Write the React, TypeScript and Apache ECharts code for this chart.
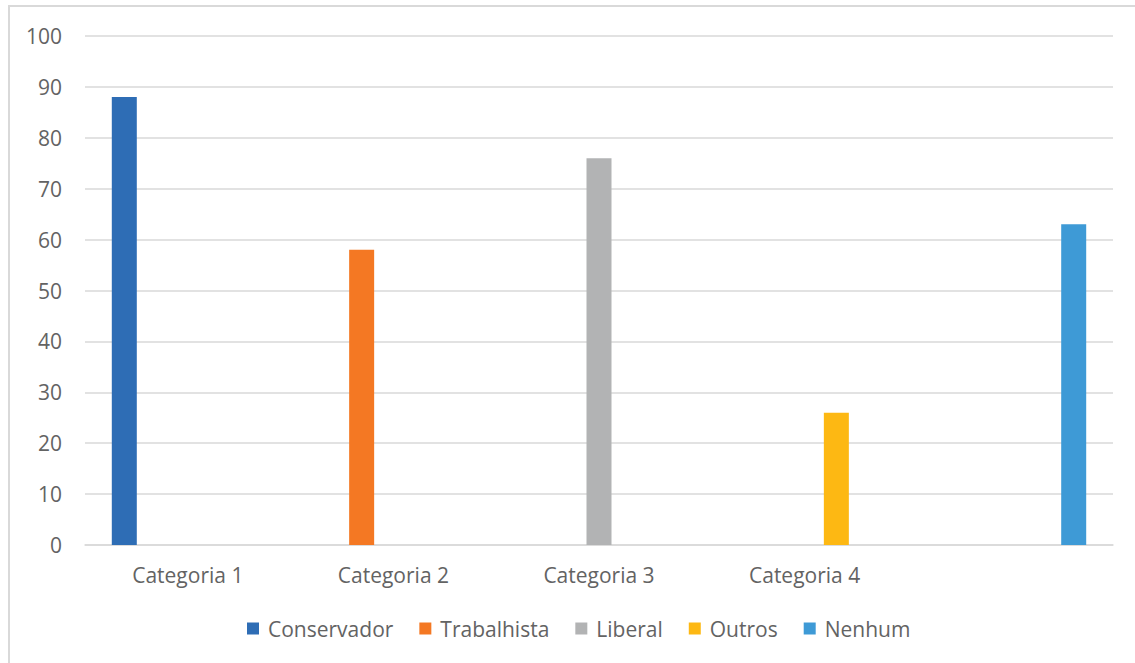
import React, { useEffect, useRef } from "react";
import * as echarts from "echarts";

const categories = ["Categoria 1", "Categoria 2", "Categoria 3", "Categoria 4", ""];
const seriesNames = ["Conservador", "Trabalhista", "Liberal", "Outros", "Nenhum"];
const conservador = [88, null, null, null, null];
const trabalhista = [null, 58, null, null, null];
const liberal = [null, null, 76, null, null];
const outros = [null, null, null, 26, null];
const nenhum = [null, null, null, null, 63];
const colors = ["#2E6DB5", "#F47823", "#B2B3B4", "#FDB813", "#3E9AD6"];

export default function App() {
  const ref = useRef<HTMLDivElement>(null);
  useEffect(() => {
    if (!ref.current) return;
    const chart = echarts.init(ref.current, null, { renderer: "svg" });
    const values = [conservador, trabalhista, liberal, outros, nenhum];
    const font = "'Open Sans', sans-serif";
    const textColor = "#636363";
    chart.setOption({
      animation: false,
      color: colors,
      textStyle: { fontFamily: font },
      grid: { left: 85, right: 22, top: 36, bottom: 118, containLabel: false },
      legend: {
        left: 242,
        top: 613,
        itemWidth: 12,
        itemHeight: 12,
        itemGap: 26,
        icon: "rect",
        data: seriesNames,
        textStyle: { fontSize: 21, color: textColor, fontFamily: font, padding: [0, 0, 0, 4] },
      },
      xAxis: {
        type: "category",
        data: categories,
        axisTick: { show: false },
        axisLine: { lineStyle: { color: "#d9d9d9", width: 1.5 } },
        axisLabel: { fontSize: 21, color: textColor, margin: 19, fontFamily: font },
      },
      yAxis: {
        type: "value",
        min: 0,
        max: 100,
        interval: 10,
        axisLine: { show: false },
        axisTick: { show: false },
        splitLine: { lineStyle: { color: "#d9d9d9", width: 1.5 } },
        axisLabel: { fontSize: 21, color: textColor, margin: 23, fontFamily: font },
      },
      graphic: [
        {
          type: "rect",
          shape: { x: 9, y: 6, width: 1200, height: 700 },
          style: { fill: "none", stroke: "#d9d9d9", lineWidth: 2 },
          silent: true,
        },
      ],
      series: seriesNames.map((name, i) => ({
        name,
        type: "bar",
        data: values[i],
        barWidth: 25,
        barGap: "27%",
        itemStyle: { color: colors[i] },
      })),
    });
    return () => chart.dispose();
  }, []);
  return (
    <div
      ref={ref}
      style={{ position: "absolute", left: 0, top: 0, width: 1135, height: 663, background: "#fff" }}
    />
  );
}
